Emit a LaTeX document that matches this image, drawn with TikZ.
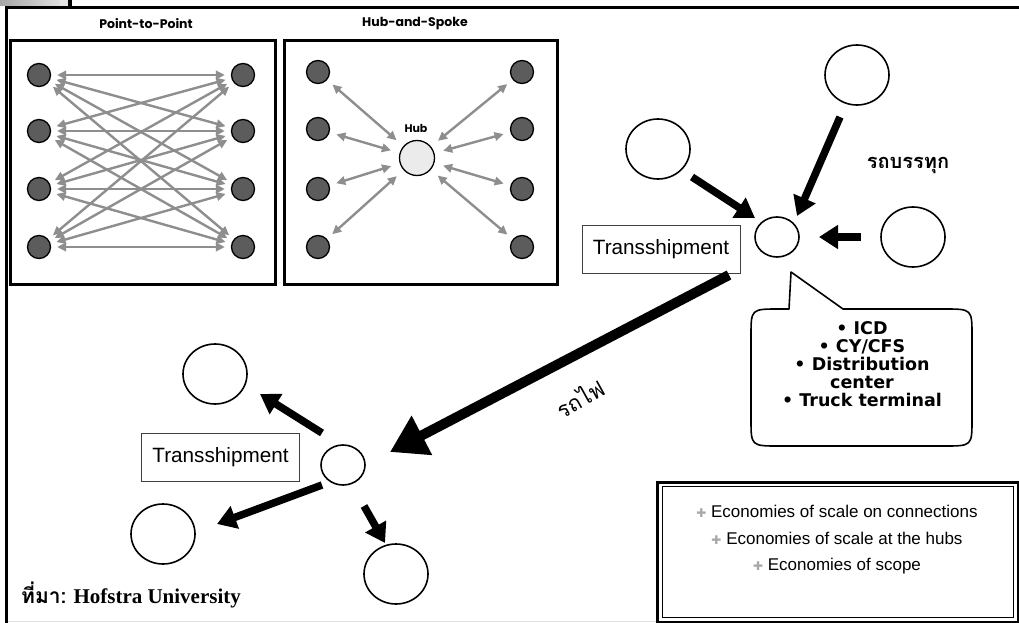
\documentclass[tikz,border=0pt]{standalone}
\usepackage{fontspec}
\setmainfont{Liberation Serif}
\setsansfont{Liberation Sans}
\newfontfamily\thaifont[Script=Thai]{Loma}
\newfontfamily\titlefont{Poppins}
\newfontfamily\dejavu{DejaVu Sans}
\usetikzlibrary{arrows.meta,shapes.geometric,calc}
\definecolor{dotgray}{HTML}{5C5C5C}
\definecolor{arrgray}{HTML}{8E8E8E}
\definecolor{hubfill}{HTML}{EBEBEB}
\definecolor{bulgray}{HTML}{A8A8A8}
\definecolor{boxline}{HTML}{404040}
\newcommand{\legbul}{{\dejavu\fontsize{12}{12}\selectfont\textcolor{bulgray}{✚}}\ }
\tikzset{
 dot/.style={circle,draw=black,line width=1.3pt,fill=dotgray,minimum size=23pt,inner sep=0pt},
 hubdot/.style={circle,draw=black,line width=1.3pt,fill=hubfill,minimum size=35pt,inner sep=0pt},
 panel/.style={draw=black,line width=3pt},
 grayarrow/.style={draw=arrgray,line width=2.4pt,{Triangle[length=9pt,width=8.5pt]}-{Triangle[length=9pt,width=8.5pt]}},
 station/.style={ellipse,draw=black,line width=1.6pt,minimum width=64pt,minimum height=60pt,inner sep=0pt},
 smallhub/.style={ellipse,draw=black,line width=1.6pt,minimum width=44pt,minimum height=40pt,inner sep=0pt},
 fatarrow/.style={line width=7.5pt,-{Triangle[length=19pt,width=23pt]}},
 hugearrow/.style={line width=10pt,-{Triangle[length=36pt,width=42pt]}},
 tbox/.style={draw=boxline,line width=0.8pt,minimum height=48pt,inner xsep=11pt,font=\sffamily\fontsize{20.7}{24}\selectfont},
 paneltitle/.style={font=\titlefont\bfseries\fontsize{12.5}{15}\selectfont},
 thaibold/.style={font=\thaifont\bfseries\fontsize{20}{24}\selectfont},
 callouttext/.style={font=\dejavu\bfseries\fontsize{17.5}{18}\selectfont,align=center},
 legendtext/.style={font=\sffamily\fontsize{17}{26.5}\selectfont,align=center}
}
\begin{document}
\begin{tikzpicture}[x=1pt,y=-1pt]
\useasboundingbox (0,0) rectangle (1019,623);
\fill[white] (0,0) rectangle (1019,623);
% frame
\fill[left color=gray!70,right color=gray!25] (0,0) rectangle (60,6);
\fill[gray!20] (60,0) rectangle (68,6);
\fill[black] (68,0) rectangle (72,8);
\draw[gray!25,line width=1.5pt] (6,621.5) -- (657,621.5);
\draw[line width=3pt] (6,623) -- (6,8) -- (1019,8);

% Point-to-Point panel
\node[paneltitle] (pttitle) at (146,24) {Point-to-Point};
\draw[panel] (10,41) rectangle (275,284);
\foreach \i/\y in {1/75,2/131,3/189,4/247}{
  \node[dot] (pl\i) at (39,\y) {};
  \node[dot] (pr\i) at (243,\y) {};
}
\foreach \i in {1,...,4}{
  \foreach \j in {1,...,4}{
    \draw[grayarrow,shorten <=6pt,shorten >=6pt] (pl\i) -- (pr\j);
  }
}

% Hub-and-Spoke panel
\node[paneltitle] (hstitle) at (415,24) {Hub-and-Spoke};
\draw[panel] (284,41) rectangle (557,284);
\node[hubdot] (hub) at (417,158) {};
\node[font=\titlefont\bfseries\fontsize{11}{12}\selectfont] (hublabel) at (416,128) {Hub};
\foreach \i/\y in {1/72,2/129,3/189,4/247}{
  \node[dot] (hl\i) at (318,\y) {};
  \node[dot] (hr\i) at (522,\y) {};
  \draw[grayarrow,shorten <=7pt,shorten >=9pt] (hl\i) -- (hub);
  \draw[grayarrow,shorten <=7pt,shorten >=9pt] (hr\i) -- (hub);
}

% upper-right cluster
\node[station] (c1) at (857,75) {};
\node[station] (c2) at (658,149) {};
\node[smallhub] (h1) at (777,237) {};
\node[station] (c3) at (913,237) {};
\node[tbox] (t1) at (661,249) {Transshipment\hspace{11pt}};
\node[thaibold] (truck) at (908,165) {รถบรรทุก};
\draw[fatarrow] ($(c2)+(34,28)$) -- ($(h1)+(-22,-19)$);
\draw[fatarrow] ($(c1)+(-17,42)$) -- ($(h1)+(20,-21)$);
\draw[fatarrow] ($(c3)+(-52,0)$) -- ($(h1)+(42,0)$);

% callout
\draw[line width=1.6pt,line join=round,fill=white]
  (789,309) -- (791,272) -- (843,309) -- (944,309)
  .. controls (972,309) .. (972,336) -- (972,419)
  .. controls (972,446) .. (944,446) -- (779,446)
  .. controls (751,446) .. (751,419) -- (751,336)
  .. controls (751,309) .. (779,309) -- cycle;
\node[callouttext] (calltext) at (862,364) {• ICD\\• CY/CFS\\• Distribution\\center\\• Truck terminal};

% lower-left cluster
\node[station] (c4) at (215,374) {};
\node[smallhub] (h2) at (343,465) {};
\node[station] (c5) at (163,534) {};
\node[station] (c6) at (396,574) {};
\node[tbox] (t2) at (220.5,457) {Transshipment};
\draw[fatarrow] ($(h2)+(-21,-32)$) -- ($(c4)+(45,20)$);
\draw[fatarrow] ($(h2)+(-21,20)$) -- ($(c5)+(54,-10)$);
\draw[fatarrow] ($(h2)+(21,41)$) -- ($(c6)+(-11,-31)$);

% rail link
\draw[hugearrow] ($(h1)+(-48,38)$) -- ($(h2)+(47,-13)$);
\node[font=\thaifont\fontsize{22}{24}\selectfont,rotate=29] (rail) at (580,398) {รถไฟ};

% source
\node[anchor=base west,inner sep=0pt,font=\fontsize{21}{24}\selectfont] (source) at (21,603)
  {{\thaifont\bfseries ที่มา:} \bfseries Hofstra University};

% legend
\draw[line width=3pt] (657,482) rectangle (1018,622);
\draw[line width=1pt] (662,486.5) rectangle (1013.5,617.5);
\node[legendtext] (legend) at (837,540)
  {\legbul Economies of scale on connections\\\legbul Economies of scale at the hubs\\\legbul Economies of scope};
\end{tikzpicture}
\end{document}
